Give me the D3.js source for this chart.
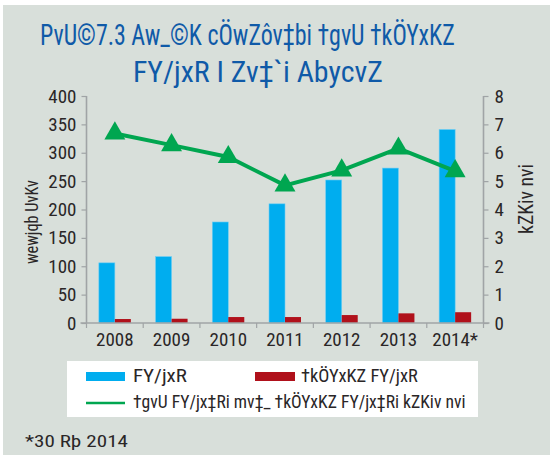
<!DOCTYPE html>
<html><head><meta charset="utf-8">
<script src="https://cdn.jsdelivr.net/npm/d3@7/dist/d3.min.js"></script>
<style>
html,body{margin:0;padding:0;background:#fff;}
svg{display:block;}
text{font-family:"Liberation Sans Narrow","Arial Narrow","Roboto Condensed","Liberation Sans",sans-serif;}
</style></head>
<body>
<svg id="c" width="550" height="455"></svg>
<script>
const years = ["2008","2009","2010","2011","2012","2013","2014*"];
const loans = [106,117,178,210,252,273,341];
const classified = [7,7.5,10.5,10.5,14,17,19];
const ratio = [6.68,6.27,5.85,4.85,5.38,6.15,5.35];
const leftTicks = [0,50,100,150,200,250,300,350,400];
const rightTicks = [0,1,2,3,4,5,6,7,8];
const titleLines = ["PvU©7.3 Aw_©K cÖwZôv‡bi †gvU †kÖYxKZ","FY/jxR I Zv‡`i AbycvZ"];
const leftTitle = "wewjqb UvKv";
const rightTitle = "kZKiv nvi";
const legendLabels = ["FY/jxR","†kÖYxKZ FY/jxR","†gvU FY/jx‡Ri mv‡_ †kÖYxKZ FY/jx‡Ri kZKiv nvi"];
const footnote = "*30 Rþ 2014";

const svg = d3.select("#c");
svg.append("rect").attr("x",3).attr("y",5).attr("width",547).attr("height",450).attr("fill","#d8dfda");

const x0 = 86.5, x1 = 483.5, yTop = 96, yBot = 323;
const x = d3.scaleBand().domain(years).range([x0,x1]).paddingInner(0).paddingOuter(0);
const yL = d3.scaleLinear().domain([0,400]).range([yBot,yTop]);
const yR = d3.scaleLinear().domain([0,8]).range([yBot,yTop]);
const barW = 16;
const blue = "#00adef", red = "#b0111b", green = "#00a650", axisCol = "#a0a4a6", txtCol = "#2a2627";

// bars
const g = svg.append("g");
g.selectAll(".b").data(years).enter().append("rect")
  .attr("x",d=>x(d)+x.bandwidth()/2-barW).attr("width",barW)
  .attr("y",(d,i)=>yL(loans[i])).attr("height",(d,i)=>yBot-yL(loans[i]))
  .attr("fill",blue).attr("stroke","#6fcdf3").attr("stroke-width",0.6);
g.selectAll(".r").data(years).enter().append("rect")
  .attr("x",d=>x(d)+x.bandwidth()/2).attr("width",barW)
  .attr("y",(d,i)=>yL(classified[i])).attr("height",(d,i)=>yBot-yL(classified[i]))
  .attr("fill",red);

// axes
const axL = svg.append("g").attr("transform",`translate(${x0},0)`)
  .call(d3.axisLeft(yL).tickValues(leftTicks).tickSize(5).tickPadding(5));
const axR = svg.append("g").attr("transform",`translate(${x1},0)`)
  .call(d3.axisRight(yR).tickValues(rightTicks).tickSize(5).tickPadding(6));
const axB = svg.append("g").attr("transform",`translate(0,${yBot})`)
  .call(d3.axisBottom(x).tickSize(0).tickPadding(10));
axB.selectAll(".sep").data(years.concat(["end"])).enter().append("line")
  .attr("x1",(d,i)=>x0+i*x.bandwidth()).attr("x2",(d,i)=>x0+i*x.bandwidth())
  .attr("y1",0).attr("y2",5).attr("stroke",axisCol).attr("stroke-width",1.2);
[axL,axR,axB].forEach(a=>{
  a.selectAll("path").attr("stroke",axisCol).attr("stroke-width",1.6);
  a.selectAll(".tick line").attr("stroke",axisCol).attr("stroke-width",1.2);
  a.selectAll("text").attr("fill",txtCol).style("font-size","19px");
});
axL.select("path").attr("d",`M-0,${yTop}H0V${yBot}`);
axR.select("path").attr("d",`M0,${yTop}V${yBot}`);
axB.select("path").attr("d",`M${x0-6},0H${x1+6}`);
axB.selectAll(".tick text").attr("dy","0.71em");

// line
const cx = d=>x(d)+x.bandwidth()/2;
const line = d3.line().x((d,i)=>cx(years[i])).y(d=>yR(d));
svg.append("path").datum(ratio).attr("d",line).attr("fill","none")
  .attr("stroke",green).attr("stroke-width",4);
svg.selectAll(".tri").data(ratio).enter().append("path")
  .attr("d",d3.symbol().type(d3.symbolTriangle).size(190))
  .attr("transform",(d,i)=>`translate(${cx(years[i])},${yR(d)})`)
  .attr("fill",green);

// horizontally scaled text placed at (tx,ty) with target width
function scaledText(tx, ty, str, size, color, width, rot){
  const t = svg.append("text").attr("fill",color).style("font-size",size+"px").text(str);
  const w = t.node().getComputedTextLength();
  const s = width / w;
  if (rot) {
    t.attr("text-anchor","middle").attr("transform",`translate(${tx},${ty}) rotate(-90) scale(${s},1)`);
  } else {
    t.attr("transform",`translate(${tx},${ty}) scale(${s},1)`);
  }
  return t;
}

// title
scaledText(40, 45, titleLines[0], 30, "#0f5aa8", 415);
scaledText(133, 82, titleLines[1], 30, "#0f5aa8", 250);

// axis titles
scaledText(38, 222, leftTitle, 19, txtCol, 84, true);
scaledText(533, 199, rightTitle, 20, txtCol, 70, true);

// legend
svg.append("rect").attr("x",67).attr("y",361).attr("width",411).attr("height",56).attr("fill","#fff");
svg.append("rect").attr("x",86).attr("y",372).attr("width",39).attr("height",9).attr("fill",blue);
scaledText(133, 382, legendLabels[0], 18, txtCol, 54);
svg.append("rect").attr("x",255).attr("y",372).attr("width",40).attr("height",9).attr("fill",red);
scaledText(301, 382, legendLabels[1], 18, txtCol, 117);
svg.append("line").attr("x1",86).attr("x2",125).attr("y1",403).attr("y2",403).attr("stroke",green).attr("stroke-width",2.5);
scaledText(133, 408, legendLabels[2], 18, txtCol, 333);

// footnote
scaledText(25, 447, footnote, 17, txtCol, 103);
</script>
</body></html>
